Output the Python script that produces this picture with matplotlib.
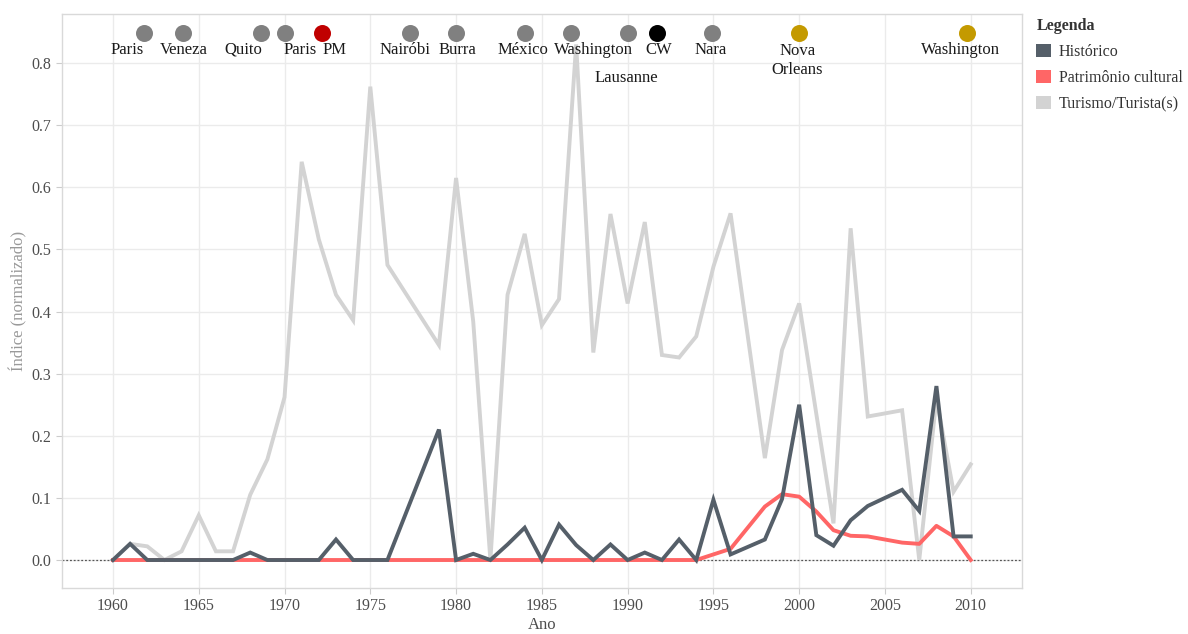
import matplotlib.pyplot as plt
from matplotlib.patches import Patch

# data (1977, 1978 and 1997 are absent)
anos = [1960, 1961, 1962, 1963, 1964, 1965, 1966, 1967, 1968, 1969,
        1970, 1971, 1972, 1973, 1974, 1975, 1976, 1979, 1980, 1981,
        1982, 1983, 1984, 1985, 1986, 1987, 1988, 1989, 1990, 1991,
        1992, 1993, 1994, 1995, 1996, 1998, 1999, 2000, 2001, 2002,
        2003, 2004, 2005, 2006, 2007, 2008, 2009, 2010]

historico = [0, 0.026, 0, 0, 0, 0, 0, 0, 0.012, 0,
             0, 0, 0, 0.033, 0, 0, 0, 0.21, 0, 0.01,
             0, 0.025, 0.052, 0, 0.057, 0.024, 0, 0.025, 0, 0.012,
             0, 0.033, 0, 0.097, 0.009, 0.033, 0.098, 0.25, 0.04, 0.023,
             0.064, 0.087, 0.1, 0.113, 0.079, 0.28, 0.038, 0.038]

patrimonio = [0, 0, 0, 0, 0, 0, 0, 0, 0, 0,
              0, 0, 0, 0, 0, 0, 0, 0, 0, 0,
              0, 0, 0, 0, 0, 0, 0, 0, 0, 0,
              0, 0, 0, 0.009, 0.018, 0.086, 0.106, 0.102, 0.078, 0.048,
              0.039, 0.038, 0.033, 0.028, 0.026, 0.055, 0.038, 0]

turismo = [0, 0.026, 0.022, 0, 0.014, 0.072, 0.014, 0.014, 0.105, 0.162,
           0.262, 0.641, 0.516, 0.427, 0.386, 0.762, 0.475, 0.346, 0.615, 0.384,
           0, 0.427, 0.525, 0.378, 0.42, 0.83, 0.334, 0.557, 0.413, 0.544,
           0.33, 0.326, 0.36, 0.472, 0.558, 0.164, 0.338, 0.413, 0.235, 0.059,
           0.534, 0.231, 0.236, 0.241, 0, 0.26, 0.11, 0.154]

# events (cartas / recomendações) along the top
eventos = ["Paris", "Veneza", "Quito", "Paris", "PM", "Nairóbi", "Burra",
           "México", "Washington", "Lausanne", "CW", "Nara",
           "Nova\nOrleans", "Washington"]
eventos_ano = [1961.8, 1964.1, 1968.6, 1970.0, 1972.2, 1977.3, 1980.0,
               1984.0, 1986.7, 1990.0, 1991.7, 1994.9, 2000.0, 2009.8]
eventos_tipo = ["g", "g", "g", "g", "r", "g", "g", "g", "g", "g", "k", "g", "y", "y"]

# label placement (repelled labels in the original)
label_x = [1960.8, 1964.1, 1967.6, 1970.9, 1972.9, 1977.0, 1980.1,
           1983.9, 1988.0, 1989.9, 1991.8, 1994.85, 1999.9, 2009.4]
label_y = [0.821, 0.821, 0.821, 0.821, 0.821, 0.821, 0.821,
           0.821, 0.821, 0.776, 0.821, 0.821, 0.821, 0.821]

cores_evento = {"g": "#808080", "r": "#c00000", "k": "#000000", "y": "#c49a00"}
c_hist = "#555f69"
c_pat = "#ff6666"
c_tur = "#d3d3d3"

plt.rcParams['font.family'] = ['Liberation Serif', 'DejaVu Serif']

fig = plt.figure(figsize=(11.88, 6.34), dpi=100)
ax = fig.add_axes([0.0522, 0.0726, 0.8078, 0.9054])

ax.axhline(0, color="#555555", lw=0.9, ls=(0, (1.5, 1.5)), zorder=1)
ax.plot(anos, turismo, color=c_tur, lw=2.8, solid_joinstyle="miter", zorder=2)
ax.plot(anos, patrimonio, color=c_pat, lw=2.8, zorder=3)
ax.plot(anos, historico, color=c_hist, lw=2.8, solid_joinstyle="miter", zorder=4)

for nome, ano, tipo, lx, ly in zip(eventos, eventos_ano, eventos_tipo, label_x, label_y):
    ax.scatter([ano], [0.849], s=150, color=cores_evento[tipo], zorder=5, linewidths=0)
    off = -0.017 if "\n" in nome else 0
    ax.text(lx, ly + off, nome, ha="center", va="center", fontsize=12,
            color="#1a1a1a", zorder=6, linespacing=1.25)

ax.set_xlim(1957.03, 2012.97)
ax.set_ylim(-0.045, 0.879)
ax.set_xticks(range(1960, 2011, 5))
ax.set_yticks([i / 10 for i in range(9)])
ax.set_yticklabels([f"{i / 10:.1f}" for i in range(9)])
ax.grid(True, color="#ebebeb", lw=1)
ax.set_axisbelow(True)
for s in ax.spines.values():
    s.set_color("#d9d9d9")
    s.set_linewidth(1)
ax.tick_params(colors="#cccccc", labelcolor="#4d4d4d", labelsize=11.5, length=4, width=0.8)

ax.set_xlabel("Ano", fontsize=12, color="#4d4d4d", labelpad=2)
ax.set_ylabel("Índice (normalizado)", fontsize=12, color="#999999", labelpad=3)

handles = [Patch(facecolor=c_hist, edgecolor="none", label="Histórico"),
           Patch(facecolor=c_pat, edgecolor="none", label="Patrimônio cultural"),
           Patch(facecolor=c_tur, edgecolor="none", label="Turismo/Turista(s)")]
leg = fig.legend(handles=handles, title="Legenda", loc="upper left",
                 bbox_to_anchor=(0.867, 0.982), frameon=False, fontsize=11.5,
                 title_fontproperties={"weight": "bold", "size": 11.5},
                 handlelength=0.9, handleheight=0.9, handletextpad=0.5,
                 labelspacing=0.62, alignment="left", borderaxespad=0)
for t in leg.get_texts():
    t.set_color("#333333")
leg.get_title().set_color("#333333")

fig.savefig("out.png", dpi=100)
